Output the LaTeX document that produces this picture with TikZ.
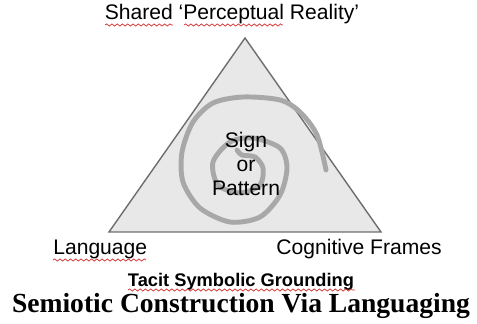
\documentclass[tikz,border=0pt]{standalone}
\usepackage{fontspec}
\setmainfont{Liberation Serif}
\setsansfont{Liberation Sans}
\usetikzlibrary{decorations.pathmorphing}
\definecolor{white}{RGB}{255,255,255}
\definecolor{tri_fill}{RGB}{232,232,232}
\definecolor{tri_edge}{RGB}{110,110,110}
\definecolor{spiral_gray}{RGB}{168,168,168}
\definecolor{squiggle_red}{RGB}{215,60,60}

\begin{document}
\begin{tikzpicture}[x=0.02cm,y=-0.02cm,
	label/.style={font=\sffamily\fontsize{12}{13.4}\selectfont,inner sep=0pt},
	squiggle/.style={squiggle_red,line width=0.45pt,decorate,decoration={snake,amplitude=0.6pt,segment length=3pt}}]
	\useasboundingbox (0,0) rectangle (477,324);

	\coordinate (apex) at (245,38);
	\coordinate (base_left) at (109,232);
	\coordinate (base_right) at (381,232);
	\draw[tri_edge,fill=tri_fill,line width=0.8pt] (apex) -- (base_left) -- (base_right) -- cycle;

	% spiral
	\draw[spiral_gray,line width=2.8pt,line cap=round] plot[smooth] coordinates {
		(326,170) (317,135) (300,112) (280,100) (243,97) (213,103) (193,122) (182,152)
		(183,182) (200,208) (230,222) (260,217) (280,195) (287,168) (280,148) (253,138)
		(230,142) (213,162) (218,185) (240,193) (260,185) (263,168) (255,157) (242,155) (237,150)};

	\node[label,anchor=base] (shared) at (232,20) {Shared ‘Perceptual Reality’};
	\node[label,align=center] (sign) at (246,164) {Sign\\or\\Pattern};
	\node[label,anchor=base west] (language) at (53,255) {Language};
	\node[label,anchor=base east] (frames) at (442,255) {Cognitive Frames};
	\node[font=\sffamily\bfseries\fontsize{10.4}{12}\selectfont,anchor=base,inner sep=0pt] (grounding) at (241,287) {Tacit Symbolic Grounding};
	\node[font=\bfseries\fontsize{15.7}{18}\selectfont,anchor=base,inner sep=0pt] (title) at (241,313) {Semiotic Construction Via Languaging};

	% spelling marks
	\foreach \a/\b/\y in {105/173/25,184/283/25,53/146/260,128/355/290}
		\draw[squiggle] (\a,\y) -- (\b,\y);
\end{tikzpicture}
\end{document}
